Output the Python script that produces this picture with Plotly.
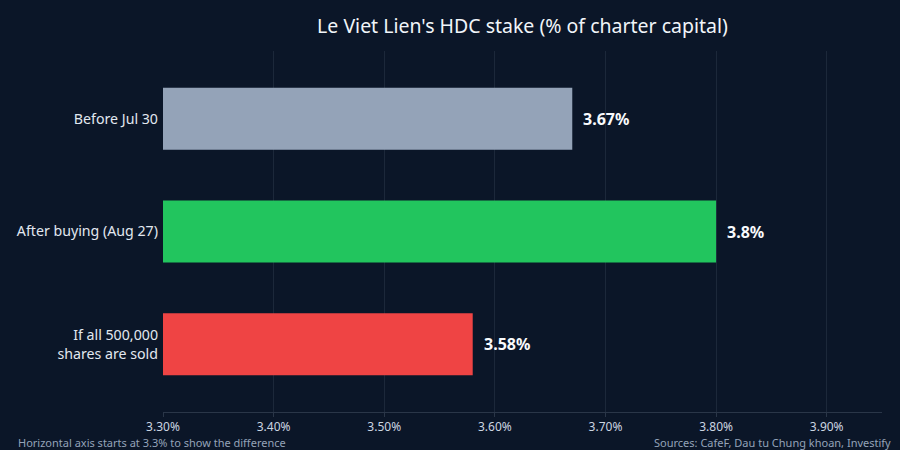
import plotly.graph_objects as go

categories = ["Before Jul 30", "After buying (Aug 27)", "If all 500,000<br>shares are sold"]
stake_pct = [3.67, 3.80, 3.58]
value_labels = ["3.67%", "3.8%", "3.58%"]
bar_colors = ["#94a3b8", "#22c55e", "#ef4444"]
x_ticks = [3.3, 3.4, 3.5, 3.6, 3.7, 3.8, 3.9]
x_tick_labels = ["3.30%", "3.40%", "3.50%", "3.60%", "3.70%", "3.80%", "3.90%"]

BG = "#0b1628"
FONT = "Noto Sans"

fig = go.Figure(go.Bar(
    x=stake_pct, y=categories, orientation="h",
    marker=dict(color=bar_colors, line=dict(width=0)),
    width=0.55, hoverinfo="skip",
))

for v, c, lab in zip(stake_pct, categories, value_labels):
    fig.add_annotation(x=v, y=c, text=f"<b>{lab}</b>", showarrow=False,
                       xanchor="left", xshift=9,
                       font=dict(family=FONT, size=16, color="#f8fafc"))

fig.add_annotation(text="Horizontal axis starts at 3.3% to show the difference",
                   xref="paper", yref="paper", x=-147 / 719, y=0, yshift=-40,
                   xanchor="left", yanchor="bottom", showarrow=False,
                   font=dict(family=FONT, size=11, color="#94a3b8"))
fig.add_annotation(text="Sources: CafeF, Dau tu Chung khoan, Investify",
                   xref="paper", yref="paper", x=1, y=0, yshift=-40, xshift=11,
                   xanchor="right", yanchor="bottom", showarrow=False,
                   font=dict(family=FONT, size=11, color="#94a3b8"))

fig.update_layout(
    width=900, height=450,
    paper_bgcolor=BG, plot_bgcolor=BG,
    margin=dict(l=163, r=18, t=51, b=38),
    font=dict(family=FONT, color="#e2e8f0"),
    title=dict(text="Le Viet Lien's HDC stake (% of charter capital)",
               x=0.5, xref="paper", y=0.942, yref="container", yanchor="middle",
               font=dict(family=FONT, size=19.5, color="#f1f5f9")),
    showlegend=False,
    bargap=0.45,
)
fig.update_xaxes(range=[3.3, 3.95], tickvals=x_ticks, ticktext=x_tick_labels,
                 showgrid=True, gridcolor="#1c283a", gridwidth=1,
                 zeroline=False, showline=True, linecolor="#2a3648",
                 ticks="outside", ticklen=4, tickcolor="#2a3648",
                 tickfont=dict(family=FONT, size=12, color="#cbd5e1"))
fig.update_yaxes(range=[2.6, -0.6], showgrid=False, zeroline=False,
                 ticks="", ticklabelstandoff=4,
                 tickfont=dict(family=FONT, size=14.2, color="#e2e8f0"))

fig.write_html("out.html", config={"displayModeBar": False},
               post_script="document.body.style.margin='0';"
                           "document.body.style.background='" + BG + "';")
